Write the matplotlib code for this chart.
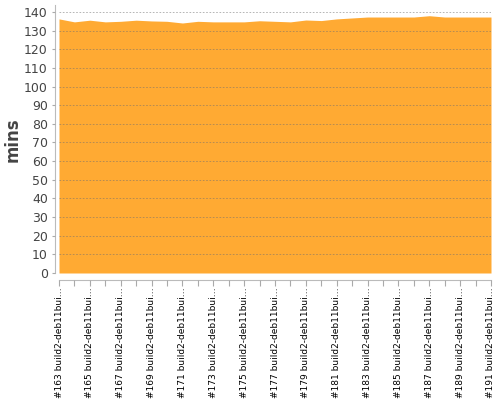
import numpy as np
import matplotlib
matplotlib.use("Agg")
import matplotlib.pyplot as plt

builds = list(range(163, 192))
labels = [f"#{b} build2-deb11bui\u2026" for b in builds]
mins = [136.3, 134.7, 135.6, 134.7, 135.0, 135.6, 135.2, 135.0, 134.1, 135.0,
        134.7, 134.7, 134.7, 135.3, 135.0, 134.7, 135.7, 135.4, 136.3, 136.8,
        137.3, 137.3, 137.3, 137.3, 138.0, 137.3, 137.3, 137.3, 137.3]

fig = plt.figure(figsize=(5, 4), dpi=100)
ax = fig.add_axes([59 / 500, 1 - 273 / 400, 432 / 500, 268 / 400])

x = np.arange(len(builds))
ax.fill_between(x, 0, mins, color="#FFAA33", linewidth=0, zorder=1)

ax.set_xlim(0, len(builds) - 1)
ax.set_ylim(0, 143.75)
ax.set_yticks(np.arange(0, 141, 10))
ax.yaxis.grid(True, linestyle=(0, (2, 2)), color="#707070", linewidth=0.6, alpha=0.6, zorder=2)
ax.set_axisbelow(False)

ax.tick_params(axis="x", length=4, color="#aaaaaa", pad=1, labelrotation=90,
               labelsize=6.5, labelcolor="#000000")
ax.tick_params(axis="y", length=2, color="#aaaaaa", labelsize=9, labelcolor="#444444", pad=3)
ax.set_xticks(x)
ax.set_xticklabels([l if i % 2 == 0 else "" for i, l in enumerate(labels)])

for s in ["top", "right"]:
    ax.spines[s].set_visible(False)
ax.spines["left"].set_position(("outward", 3))
ax.spines["bottom"].set_position(("outward", 5))
ax.spines["left"].set_color("#bbbbbb")
ax.spines["bottom"].set_color("#bbbbbb")

ax.set_ylabel("mins", fontsize=12, fontweight="bold", color="#444444")
ax.yaxis.set_label_coords(-0.087, 0.496)

plt.savefig("out.png", dpi=100)
plt.close()
